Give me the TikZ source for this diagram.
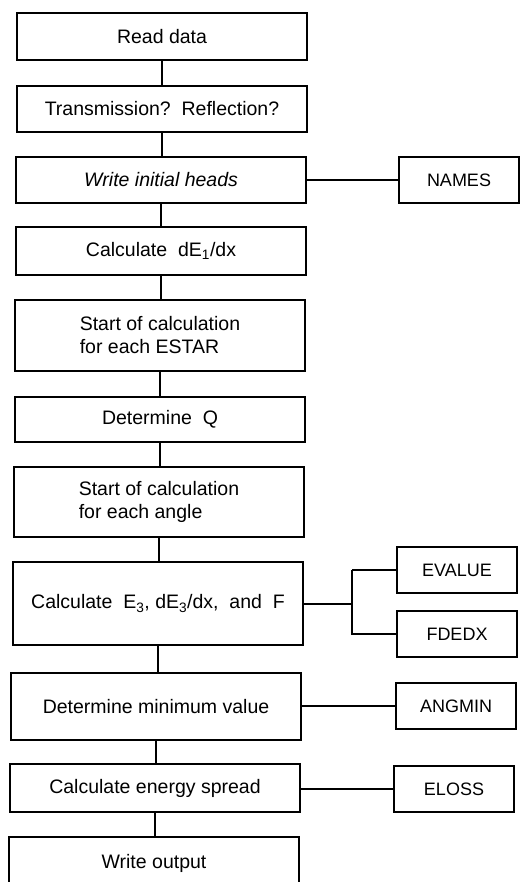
\documentclass[tikz,border=0pt]{standalone}
\usepackage{fontspec}
\setmainfont{Liberation Sans}
\usepackage{tikz}

\tikzset{
  flowbox/.style={draw, line width=2.2pt, minimum width=290pt, align=center,
    inner sep=0pt, font=\fontsize{19.5}{23}\selectfont},
  subbox/.style={draw, line width=2.2pt, minimum width=120pt, minimum height=46pt,
    inner sep=0pt, font=\fontsize{18}{20}\selectfont},
  link/.style={line width=2.2pt}
}

\begin{document}
\begin{tikzpicture}[x=1pt,y=-1pt]

  \useasboundingbox (0,0) rectangle (520,882);

  %%%%%%%%%%%%%%%%%%%%%%%%%%%%%%%%%%%%%%%%%%%%%%%%%%%%%%%%%%%%%%%%%%%%%%%%%%%%5
  %% Main chain of the program
  %%%%%%%%%%%%%%%%%%%%%%%%%%%%%%%%%%%%%%%%%%%%%%%%%%%%%%%%%%%%%%%%%%%%%%%%%%%%5

  \node [flowbox, minimum height=47pt] (read)   at (162,36.5) {Read data};
  \node [flowbox, minimum height=46pt] (trans)  at (162,109)  {Transmission?\ \ Reflection?};
  \node [flowbox, minimum height=46pt] (heads)  at (161,180)  {\itshape Write initial heads};
  \node [flowbox, minimum height=48pt] (dedx)   at (161,251)  {Calculate\ \ dE\textsubscript{1}/dx};
  \node [flowbox, minimum height=71pt, align=left] (estar) at (160,335.5) {Start of calculation\\for each ESTAR};
  \node [flowbox, minimum height=45pt] (detq)   at (160,419.5) {Determine\ \ Q};
  \node [flowbox, minimum height=70pt, align=left] (angle) at (159,502) {Start of calculation\\for each angle};
  \node [flowbox, minimum height=83pt] (calce)  at (158,603.5) {Calculate\ \ E\textsubscript{3},\ dE\textsubscript{3}/dx,\ \ and\ \ F};
  \node [flowbox, minimum height=67pt] (detmin) at (156,706.5) {Determine minimum value};
  \node [flowbox, minimum height=48pt] (spread) at (155,788)  {Calculate energy spread};
  \node [flowbox, minimum height=52pt] (output) at (154,863)  {Write output};

  % Vertical links between the boxes
  \foreach \a/\b in {read/trans, trans/heads, heads/dedx, dedx/estar, estar/detq,
                     detq/angle, angle/calce, calce/detmin, detmin/spread, spread/output}
    \draw [link] (\a.south) -- (\a.south |- \b.north);

  %%%%%%%%%%%%%%%%%%%%%%%%%%%%%%%%%%%%%%%%%%%%%%%%%%%%%%%%%%%%%%%%%%%%%%%%%%%%5
  %% Subroutines on the right
  %%%%%%%%%%%%%%%%%%%%%%%%%%%%%%%%%%%%%%%%%%%%%%%%%%%%%%%%%%%%%%%%%%%%%%%%%%%%5

  \node [subbox] (names)  at (459,180) {NAMES};
  \node [subbox] (evalue) at (457,570) {EVALUE};
  \node [subbox] (fdedx)  at (457,634) {FDEDX};
  \node [subbox] (angmin) at (456,706) {ANGMIN};
  \node [subbox] (eloss)  at (454,789) {ELOSS};

  % Single links
  \foreach \a/\b in {heads/names, detmin/angmin, spread/eloss}
    \draw [link] (\a.east |- \b.west) -- (\b.west);

  % The fork to EVALUE and FDEDX
  \coordinate (fork) at (352,604);
  \draw [link] (calce.east |- fork) -- (fork);
  \draw [link] (fork |- evalue.west) -- (evalue.west);
  \draw [link] (fork |- evalue.west) -- (fork |- fdedx.west) -- (fdedx.west);

\end{tikzpicture}
\end{document}
